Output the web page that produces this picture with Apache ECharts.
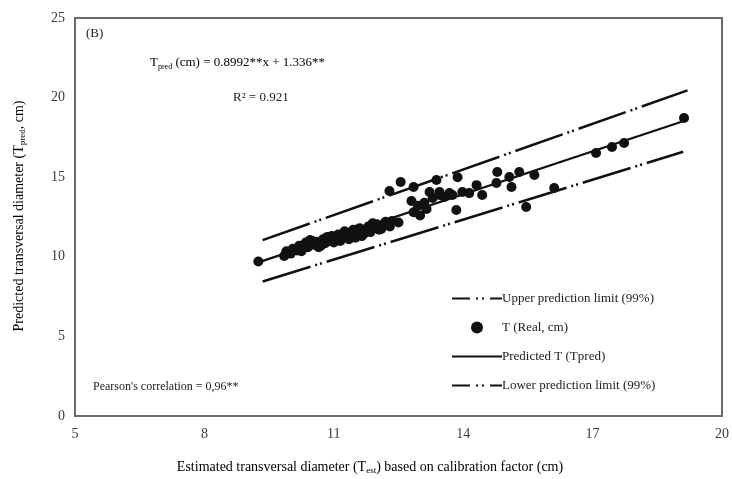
<!DOCTYPE html>
<html>
<head>
<meta charset="utf-8">
<script src="https://cdn.jsdelivr.net/npm/echarts@6/dist/echarts.min.js"></script>
<style>html,body{margin:0;padding:0;background:#fff}#c{width:732px;height:479px}</style>
</head>
<body>
<div id="c"></div>
<script>
// ---- data ----
const xTicks = [5, 8, 11, 14, 17, 20];
const yTicks = [0, 5, 10, 15, 20, 25];
const realX = [9.25, 9.85, 9.9, 10.0, 10.05, 10.15, 10.2, 10.3, 10.35, 10.4, 10.45, 10.55, 10.6, 10.7, 10.75, 10.8, 10.9, 10.95, 11.0, 11.05, 11.1, 11.15, 11.2, 11.3, 11.35, 11.4, 11.45, 11.5, 11.55, 11.6, 11.7, 11.75, 11.8, 11.85, 11.95, 12.0, 12.05, 12.15, 12.2, 12.3, 12.35, 12.5,
  10.25, 10.5, 10.65, 10.85, 11.25, 11.65, 11.9, 12.1,
  12.29, 12.55, 12.85, 13.38, 12.8, 12.85, 12.95, 13.0, 13.1, 13.15, 13.22, 13.29, 13.45, 13.45, 13.56, 13.68, 13.75, 13.87, 13.98, 14.14, 14.31, 14.44, 14.77, 14.79, 15.07, 15.12, 15.3, 15.65, 13.84, 15.46, 16.11, 17.08, 17.45, 17.73, 19.12];
const realY = [9.7, 10.05, 10.35, 10.2, 10.5, 10.4, 10.7, 10.55, 10.9, 10.6, 11.05, 10.75, 10.95, 10.7, 11.1, 10.85, 11.0, 11.3, 10.9, 11.15, 11.4, 11.0, 11.25, 11.5, 11.1, 11.35, 11.7, 11.2, 11.5, 11.8, 11.45, 11.65, 11.9, 11.55, 11.8, 12.05, 11.7, 12.0, 12.2, 11.9, 12.25, 12.15,
  10.35, 11.0, 10.6, 11.25, 11.6, 11.3, 12.1, 11.75,
  14.13, 14.7, 14.38, 14.82, 13.5, 12.8, 13.2, 12.6, 13.4, 13.0, 14.07, 13.69, 13.88, 14.07, 13.76, 14.0, 13.88, 15.0, 14.07, 14.0, 14.5, 13.88, 14.64, 15.33, 15.01, 14.38, 15.33, 15.14, 12.94, 13.13, 14.32, 16.52, 16.9, 17.15, 18.72];
const predX = [9.25, 19.15];
const predY = [9.65, 18.56];
const upperX = [9.35, 19.2];
const upperY = [11.05, 20.45];
const lowerX = [9.35, 19.1];
const lowerY = [8.45, 16.6];

const zip = (a, b) => a.map((v, i) => [v, b[i]]);
const serif = '"Liberation Serif", "DejaVu Serif", serif';
const dash = [50, 5, 2, 3, 2, 5];
const legendDash = [18, 6, 2, 4, 2, 6];
const ink = '#111';

const chart = echarts.init(document.getElementById('c'), null, {renderer: 'canvas'});
chart.setOption({
  animation: false,
  backgroundColor: '#fff',
  textStyle: {fontFamily: serif},
  grid: {left: 75, right: 9, top: 18, bottom: 63, show: true, borderColor: '#6a6a6a', borderWidth: 2, backgroundColor: 'transparent'},
  xAxis: {
    type: 'value', min: xTicks[0], max: xTicks[xTicks.length - 1], interval: 3,
    axisLine: {show: false}, axisTick: {show: false}, splitLine: {show: false},
    axisLabel: {fontFamily: serif, fontSize: 14, color: '#3a3a3a', margin: 11}
  },
  yAxis: {
    type: 'value', min: yTicks[0], max: yTicks[yTicks.length - 1], interval: 5,
    axisLine: {show: false}, axisTick: {show: false}, splitLine: {show: false},
    axisLabel: {fontFamily: serif, fontSize: 14, color: '#3a3a3a', margin: 10}
  },
  legend: {
    orient: 'vertical', left: 446, top: 287, itemWidth: 50, itemHeight: 12, itemGap: 16,
    textStyle: {fontFamily: serif, fontSize: 13, color: '#222', padding: [0, 0, 0, -5]},
    data: [
      {name: 'Upper prediction limit (99%)', itemStyle: {opacity: 0}, lineStyle: {type: legendDash}},
      {name: 'T (Real, cm)', itemStyle: {}},
      {name: 'Predicted T (Tpred)', itemStyle: {opacity: 0}},
      {name: 'Lower prediction limit (99%)', itemStyle: {opacity: 0}, lineStyle: {type: legendDash}}
    ]
  },
  series: [
    {name: 'Upper prediction limit (99%)', type: 'line', data: zip(upperX, upperY), symbol: 'none', lineStyle: {color: ink, width: 2.5, type: dash}, itemStyle: {color: ink}},
    {name: 'Lower prediction limit (99%)', type: 'line', data: zip(lowerX, lowerY), symbol: 'none', lineStyle: {color: ink, width: 2.5, type: dash}, itemStyle: {color: ink}},
    {name: 'Predicted T (Tpred)', type: 'line', data: zip(predX, predY), symbol: 'none', lineStyle: {color: ink, width: 2.2}, itemStyle: {color: ink}},
    {name: 'T (Real, cm)', type: 'scatter', data: zip(realX, realY), symbol: 'circle', symbolSize: 10, itemStyle: {color: ink, opacity: 1}, z: 5}
  ],
  graphic: [
    {type: 'text', left: 86, top: 27, style: {text: '(B)', font: '13px ' + serif, fill: '#222'}},
    {type: 'text', left: 150, top: 56, style: {
      text: '{a|T}{s|pred}{a| (cm) = 0.8992**x + 1.336**}',
      rich: {a: {fontFamily: serif, fontSize: 13, color: '#222'}, s: {fontFamily: serif, fontSize: 8, color: '#222', padding: [8, 0, 0, 0]}}
    }},
    {type: 'text', left: 233, top: 91, style: {text: 'R\u00b2 = 0.921', font: '13px ' + serif, fill: '#222'}},
    {type: 'text', left: 93, top: 381, style: {text: "Pearson's correlation = 0,96**", font: '12px ' + serif, fill: '#222'}},
    {type: 'text', x: 370, y: 467, style: {
      text: '{a|Estimated transversal diameter (T}{s|est}{a|) based on calibration factor (cm)}',
      align: 'center', verticalAlign: 'middle',
      rich: {a: {fontFamily: serif, fontSize: 14, color: '#222'}, s: {fontFamily: serif, fontSize: 9, color: '#222', padding: [8, 0, 0, 0]}}
    }},
    {type: 'text', x: 19, y: 216, rotation: Math.PI / 2, style: {
      text: '{a|Predicted transversal diameter (T}{s|pred}{a|, cm)}',
      align: 'center', verticalAlign: 'middle',
      rich: {a: {fontFamily: serif, fontSize: 14, color: '#222'}, s: {fontFamily: serif, fontSize: 9, color: '#222', padding: [8, 0, 0, 0]}}
    }}
  ]
});
</script>
</body>
</html>
